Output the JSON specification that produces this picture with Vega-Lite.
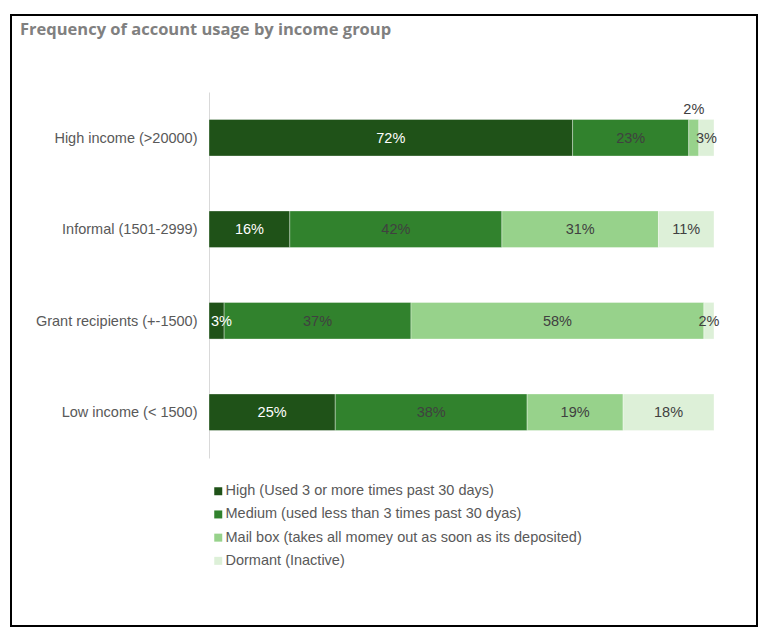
{
  "$schema": "https://vega.github.io/schema/vega-lite/v6.json",
  "autosize": {"type": "none"},
  "padding": {"left": 11, "top": 15, "right": 9, "bottom": 15},
  "width": 746,
  "height": 611,
  "title": {"text": "Frequency of account usage by income group", "anchor": "start", "frame": "group", "offset": -23, "dx": 9, "font": "Open Sans", "fontWeight": "bold", "fontSize": 16.5, "color": "#808080"},
  "data": {"values": [
    {"group": "High income (>20000)", "series": "High (Used 3 or more times past 30 days)", "value": 72},
    {"group": "High income (>20000)", "series": "Medium (used less than 3 times past 30 dyas)", "value": 23},
    {"group": "High income (>20000)", "series": "Mail box (takes all momey out as soon as its deposited)", "value": 2},
    {"group": "High income (>20000)", "series": "Dormant (Inactive)", "value": 3},
    {"group": "Informal (1501-2999)", "series": "High (Used 3 or more times past 30 days)", "value": 16},
    {"group": "Informal (1501-2999)", "series": "Medium (used less than 3 times past 30 dyas)", "value": 42},
    {"group": "Informal (1501-2999)", "series": "Mail box (takes all momey out as soon as its deposited)", "value": 31},
    {"group": "Informal (1501-2999)", "series": "Dormant (Inactive)", "value": 11},
    {"group": "Grant recipients (+-1500)", "series": "High (Used 3 or more times past 30 days)", "value": 3},
    {"group": "Grant recipients (+-1500)", "series": "Medium (used less than 3 times past 30 dyas)", "value": 37},
    {"group": "Grant recipients (+-1500)", "series": "Mail box (takes all momey out as soon as its deposited)", "value": 58},
    {"group": "Grant recipients (+-1500)", "series": "Dormant (Inactive)", "value": 2},
    {"group": "Low income (< 1500)", "series": "High (Used 3 or more times past 30 days)", "value": 25},
    {"group": "Low income (< 1500)", "series": "Medium (used less than 3 times past 30 dyas)", "value": 38},
    {"group": "Low income (< 1500)", "series": "Mail box (takes all momey out as soon as its deposited)", "value": 19},
    {"group": "Low income (< 1500)", "series": "Dormant (Inactive)", "value": 18}
  ]},
  "transform": [
    {"calculate": "indexof(['High (Used 3 or more times past 30 days)','Medium (used less than 3 times past 30 dyas)','Mail box (takes all momey out as soon as its deposited)','Dormant (Inactive)'], datum.series)", "as": "rank"},
    {"stack": "value", "groupby": ["group"], "sort": [{"field": "rank", "order": "ascending"}], "as": ["v0", "v1"]},
    {"calculate": "(datum.v0 + datum.v1) / 2", "as": "mid"},
    {"calculate": "datum.value + '%'", "as": "lbl"}
  ],
  "encoding": {
    "y": {"field": "group", "type": "nominal", "title": null,
      "sort": ["High income (>20000)", "Informal (1501-2999)", "Grant recipients (+-1500)", "Low income (< 1500)"],
      "scale": {"range": [77, 443], "paddingInner": 0.6, "paddingOuter": 0.3},
      "axis": {"offset": -198, "domainColor": "#d9d9d9", "domainWidth": 1, "ticks": false, "labelPadding": 12, "labelFontSize": 14.5, "labelFont": "Liberation Sans", "labelColor": "#595959", "labelLimit": 300, "labelOffset": 1}}
  },
  "layer": [
    {
      "mark": {"type": "bar", "stroke": "#ffffff", "strokeWidth": 0.7, "strokeOpacity": 0.5},
      "encoding": {
        "x": {"field": "v0", "type": "quantitative", "scale": {"domain": [0, 100], "range": [198, 703], "nice": false, "zero": false}, "axis": null},
        "x2": {"field": "v1"},
        "color": {"field": "series", "type": "nominal",
          "scale": {"domain": ["High (Used 3 or more times past 30 days)", "Medium (used less than 3 times past 30 dyas)", "Mail box (takes all momey out as soon as its deposited)", "Dormant (Inactive)"],
                    "range": ["#1f5218", "#31822d", "#97d28b", "#ddf0d8"]},
          "legend": {"title": null, "orient": "none", "legendX": 200, "legendY": 469, "symbolType": "square", "symbolSize": 64, "symbolStrokeWidth": 0, "labelFontSize": 14.5, "labelFont": "Liberation Sans", "labelColor": "#595959", "labelLimit": 500, "rowPadding": 8.2, "labelOffset": 0}}
      }
    },
    {
      "transform": [{"filter": "!(datum.group == 'High income (>20000)' && datum.rank == 2) && !(datum.rank == 0 && datum.value < 5)"}],
      "mark": {"type": "text", "fontSize": 14.5, "font": "Liberation Sans", "baseline": "middle", "align": "center", "dy": 1},
      "encoding": {
        "x": {"field": "mid", "type": "quantitative"},
        "text": {"field": "lbl"},
        "color": {"condition": {"test": "datum.rank == 0", "value": "#ffffff"}, "value": "#404040"}
      }
    },
    {
      "transform": [{"filter": "datum.rank == 0 && datum.value < 5"}],
      "mark": {"type": "text", "fontSize": 14.5, "font": "Liberation Sans", "baseline": "middle", "align": "left", "dx": 2, "dy": 1, "color": "#ffffff"},
      "encoding": {
        "x": {"field": "v0", "type": "quantitative"},
        "text": {"field": "lbl"}
      }
    },
    {
      "transform": [{"filter": "datum.group == 'High income (>20000)' && datum.rank == 2"}],
      "mark": {"type": "text", "fontSize": 14.5, "font": "Liberation Sans", "baseline": "middle", "align": "center", "yOffset": -28, "color": "#404040"},
      "encoding": {
        "x": {"field": "mid", "type": "quantitative"},
        "text": {"field": "lbl"}
      }
    }
  ],
  "config": {
    "view": {"stroke": "#000000", "strokeWidth": 2},
    "background": "#ffffff"
  }
}
